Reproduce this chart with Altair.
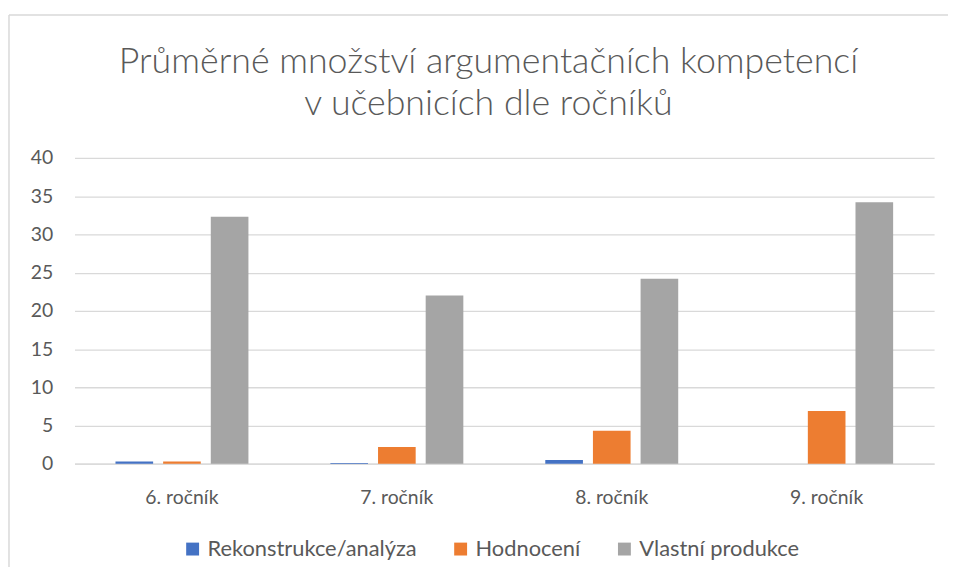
import altair as alt
import pandas as pd

categories = ["6. ročník", "7. ročník", "8. ročník", "9. ročník"]
series = ["Rekonstrukce/analýza", "Hodnocení", "Vlastní produkce"]
rekonstrukce = [0.3, 0.1, 0.5, 0.0]
hodnoceni = [0.3, 2.2, 4.3, 6.9]
vlastni = [32.3, 22.0, 24.2, 34.2]
colors = ["#4472C4", "#ED7D31", "#A5A5A5"]
title_lines = ["Průměrné množství argumentačních kompetencí", "v učebnicích dle ročníků"]

rows = []
for i, c in enumerate(categories):
    for s, vals in zip(series, [rekonstrukce, hodnoceni, vlastni]):
        rows.append({"rocnik": c, "serie": s, "hodnota": vals[i]})
df = pd.DataFrame(rows)

FONT = "Lato"
GREY = "#595959"

bars = alt.Chart(df).mark_bar().encode(
    x=alt.X("rocnik:N", sort=categories, title=None,
            scale=alt.Scale(paddingInner=0, paddingOuter=0),
            axis=alt.Axis(labelAngle=0, ticks=False, domainColor="#D9D9D9",
                          domainWidth=1.3,
                          labelFontSize=19.5, labelColor=GREY, labelFont=FONT,
                          labelPadding=25, grid=False)),
    xOffset=alt.XOffset("serie:N", sort=series,
                        scale=alt.Scale(paddingInner=0.21, paddingOuter=0.86)),
    y=alt.Y("hodnota:Q", title=None,
            scale=alt.Scale(domain=[0, 40]),
            axis=alt.Axis(values=[0, 5, 10, 15, 20, 25, 30, 35, 40], ticks=False,
                          domain=False, gridColor="#D9D9D9", gridWidth=1.3,
                          labelFontSize=19.5, labelColor=GREY, labelFont=FONT,
                          labelPadding=22)),
    color=alt.Color("serie:N", sort=series,
                    scale=alt.Scale(domain=series, range=colors),
                    legend=alt.Legend(title=None, orient="none", direction="horizontal",
                                      legendX=108, legendY=383, symbolType="square",
                                      symbolSize=169, symbolStrokeWidth=0,
                                      labelFontSize=22, labelColor=GREY, labelFont=FONT,
                                      labelOffset=4, columnPadding=33, padding=0,
                                      labelLimit=400)),
)

border_top = alt.Chart().mark_rule(color="#D9D9D9", strokeWidth=1.5).encode(
    x=alt.value(-66), x2=alt.value(880), y=alt.value(-144))
border_left = alt.Chart().mark_rule(color="#D9D9D9", strokeWidth=1.5).encode(
    x=alt.value(-66), y=alt.value(-144), y2=alt.value(412))

title1 = alt.Chart().mark_text(fontSize=36, font=FONT, fontWeight=300, color=GREY,
                               baseline="middle", align="center").encode(
    x=alt.value(417), y=alt.value(-97), text=alt.value(title_lines[0]))
title2 = alt.Chart().mark_text(fontSize=36, font=FONT, fontWeight=300, color=GREY,
                               baseline="middle", align="center").encode(
    x=alt.value(417), y=alt.value(-54), text=alt.value(title_lines[1]))

chart = alt.layer(border_top, border_left, title1, title2, bars).properties(
    width=866, height=308,
    padding={"left": 0, "top": 4, "right": 0, "bottom": 0},
).configure_view(stroke=None)

chart.save("out.html", embed_options={"renderer": "svg", "actions": False})
